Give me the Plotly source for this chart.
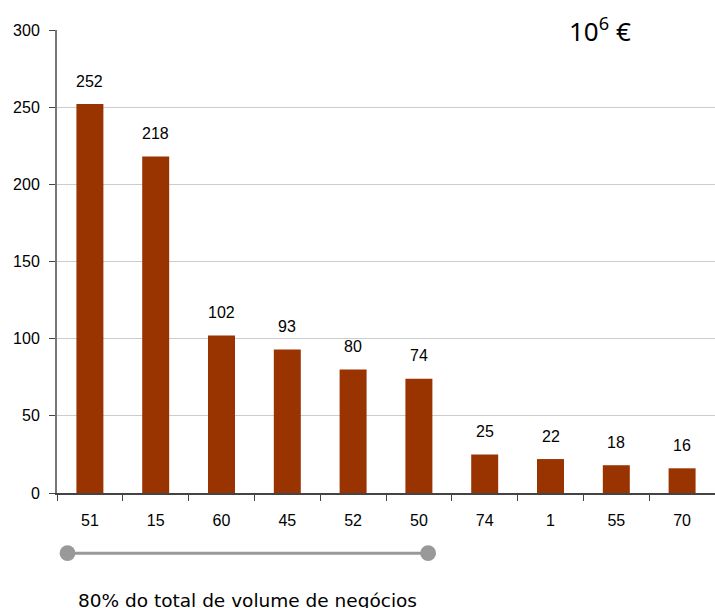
import plotly.graph_objects as go

# Business volume by sector code, in millions of euros
categories = ["51", "15", "60", "45", "52", "50", "74", "1", "55", "70"]
values = [252, 218, 102, 93, 80, 74, 25, 22, 18, 16]
y_ticks = [0, 50, 100, 150, 200, 250, 300]

# Span of sectors that together make 80% of the total
span_first, span_last = 0, 5
span_label = "80% do total de volume de negócios"

bar_color = "#993300"
label_font = dict(family="Liberation Sans, Arial, sans-serif", size=16, color="#000000")

fig = go.Figure()
fig.add_trace(go.Bar(
    x=categories, y=values,
    marker=dict(color=bar_color, line=dict(width=0)),
    hoverinfo="x+y",
))

# value labels above each bar (positioned by category index)
for i, v in enumerate(values):
    fig.add_annotation(x=i, y=v, text=str(v), showarrow=False,
                       yshift=23, font=label_font, xanchor="center", yanchor="middle")

# bracket line marking the 80% group
x_start = span_first - 0.34
x_end = span_last + 0.14
y_line = -0.13
fig.add_shape(type="line", xref="x", yref="paper",
              x0=x_start, x1=x_end, y0=y_line, y1=y_line,
              line=dict(color="#999999", width=3))
for xc in (x_start, x_end):
    fig.add_shape(type="circle", xref="x", yref="paper",
                  x0=xc - 0.12, x1=xc + 0.12, y0=y_line - 0.017, y1=y_line + 0.017,
                  fillcolor="#999999", line=dict(width=0))

fig.add_annotation(xref="paper", yref="paper", x=0.029, y=-0.232, text=span_label,
                   showarrow=False, xanchor="left", yanchor="middle",
                   font=dict(family="DejaVu Sans, Verdana, sans-serif", size=18.5, color="#000000"))

# unit label
fig.add_annotation(xref="paper", yref="paper", x=0.775, y=1.0, text="10<sup>6</sup> €",
                   showarrow=False, xanchor="left", yanchor="middle",
                   font=dict(family="Noto Sans, Open Sans, sans-serif", size=26, color="#000000"))

fig.update_layout(
    width=715, height=608,
    margin=dict(l=57, r=0, t=30, b=115),
    plot_bgcolor="#ffffff", paper_bgcolor="#ffffff",
    bargap=0.59,
    showlegend=False,
    font=label_font,
)
fig.update_xaxes(
    type="category", categoryorder="array", categoryarray=categories,
    range=[-0.5, len(categories) - 0.5], tickangle=0,
    showline=True, linecolor="#444444", linewidth=1.5,
    ticks="outside", tickson="boundaries", ticklen=6, tickcolor="#444444",
    ticklabelstandoff=12,
    tickfont=label_font, showgrid=False, zeroline=False,
)
fig.update_yaxes(
    range=[0, 300], tickvals=y_ticks,
    showline=True, linecolor="#777777", linewidth=2,
    ticks="outside", ticklen=6, tickcolor="#444444",
    ticklabelstandoff=6,
    tickfont=label_font, showgrid=True, gridcolor="#cccccc", gridwidth=1,
    zeroline=False,
)

fig.write_html("out.html")
